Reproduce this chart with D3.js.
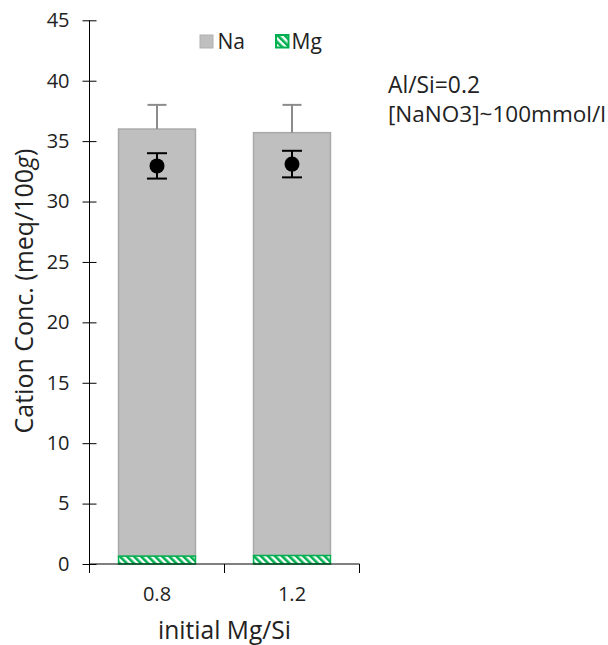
<!DOCTYPE html>
<html><head><meta charset="utf-8">
<script src="https://cdn.jsdelivr.net/npm/d3@7"></script>
<style>body{margin:0;background:#fff}svg text{font-family:"Open Sans",sans-serif;fill:#222}</style>
</head><body>
<svg id="c" width="608" height="645"></svg>
<script>
const categories = ["0.8", "1.2"];
const mgValues = [0.65, 0.7];
const naValues = [35.35, 35.0];
const totalErr = [2.0, 2.3];
const dotValues = [32.95, 33.1];
const dotErr = [1.05, 1.1];
const yTicks = [0,5,10,15,20,25,30,35,40,45];

const svg = d3.select("#c");
function fit(sel, w){
  const n = sel.node(); const fs = parseFloat(sel.attr("font-size"));
  const len = n.getComputedTextLength();
  if (len>0) sel.attr("font-size", fs*w/len);
  return sel;
}
const defs = svg.append("defs");
const pat = defs.append("pattern").attr("id","hatch").attr("patternUnits","userSpaceOnUse")
  .attr("width",5).attr("height",5).attr("patternTransform","rotate(-45)");
pat.append("rect").attr("width",5).attr("height",5).attr("fill","#fff");
pat.append("rect").attr("width",2.6).attr("height",5).attr("fill","#00b050");

const x = d3.scaleBand().domain(categories).range([89.5,359.5]).paddingInner(0.43).paddingOuter(0.215);
const y = d3.scaleLinear().domain([0,45]).range([564,20.3]);

const g = svg.append("g");
categories.forEach((c,i)=>{
  const bx = x(c), bw = x.bandwidth();
  g.append("rect").attr("x",bx).attr("width",bw)
    .attr("y",y(mgValues[i]+naValues[i])).attr("height",y(mgValues[i])-y(mgValues[i]+naValues[i]))
    .attr("fill","#bfbfbf").attr("stroke","#a9a9a9").attr("stroke-width",1.5);
  g.append("rect").attr("x",bx).attr("width",bw)
    .attr("y",y(mgValues[i])).attr("height",y(0)-y(mgValues[i]))
    .attr("fill","url(#hatch)").attr("stroke","#00b050").attr("stroke-width",1.5);
  const cx = bx + bw/2;
  const top = mgValues[i]+naValues[i];
  g.append("line").attr("x1",cx).attr("x2",cx).attr("y1",y(top)).attr("y2",y(top+totalErr[i]))
    .attr("stroke","#8c8c8c").attr("stroke-width",2);
  g.append("line").attr("x1",cx-9.5).attr("x2",cx+9.5).attr("y1",y(top+totalErr[i])).attr("y2",y(top+totalErr[i]))
    .attr("stroke","#8c8c8c").attr("stroke-width",2);
  g.append("line").attr("x1",cx).attr("x2",cx).attr("y1",y(dotValues[i]+dotErr[i])).attr("y2",y(dotValues[i]-dotErr[i]))
    .attr("stroke","#000").attr("stroke-width",2);
  [dotValues[i]+dotErr[i], dotValues[i]-dotErr[i]].forEach(v=>{
    g.append("line").attr("x1",cx-10).attr("x2",cx+10).attr("y1",y(v)).attr("y2",y(v))
      .attr("stroke","#000").attr("stroke-width",2);
  });
  g.append("circle").attr("cx",cx).attr("cy",y(dotValues[i])).attr("r",7.5).attr("fill","#000");
});

// y axis
const ya = svg.append("g").attr("transform","translate(89.5,0)")
  .call(d3.axisLeft(y).tickValues(yTicks).tickSize(7).tickPadding(13));
ya.selectAll(".tick line").attr("x1",-7).attr("x2",7);
ya.select(".domain").attr("d",`M0,${y(45)}V${y(0)}`);
ya.selectAll("path,line").attr("stroke","#000").attr("stroke-width",1);
ya.selectAll("text").attr("font-size",20).attr("fill","#222").style("font-family","'Open Sans',sans-serif");

// x axis
const xa = svg.append("g").attr("transform",`translate(0,${y(0)})`);
xa.append("line").attr("x1",89.5).attr("x2",359.5).attr("stroke","#000");
[89.5,224.5,359.5].forEach(px=>xa.append("line").attr("x1",px).attr("x2",px).attr("y1",0).attr("y2",9).attr("stroke","#000"));
categories.forEach(c=>{
  xa.append("text").attr("x",x(c)+x.bandwidth()/2).attr("y",37).attr("text-anchor","middle")
    .attr("font-size",20).text(c);
});

fit(svg.append("text").attr("x",224.5).attr("y",639).attr("text-anchor","middle").attr("font-size",20).text("initial Mg/Si"),133);
const yl = svg.append("text").attr("transform","translate(33,291) rotate(-90)").attr("text-anchor","middle")
  .attr("font-size",20);
yl.append("tspan").text("Cation Conc. (meq/100");
yl.append("tspan").attr("font-style","italic").text("g");
yl.append("tspan").text(")");
fit(yl,285);

// legend
svg.append("rect").attr("x",200).attr("y",35).attr("width",13).attr("height",13).attr("fill","#bfbfbf").attr("stroke","#b0b0b0");
svg.append("text").attr("x",217.5).attr("y",48.5).attr("font-size",21).text("Na");
svg.append("rect").attr("x",276).attr("y",35).attr("width",12.5).attr("height",12.5).attr("fill","url(#hatch)").attr("stroke","#00b050").attr("stroke-width",2);
svg.append("text").attr("x",291.5).attr("y",48.5).attr("font-size",21).text("Mg");

// annotation
fit(svg.append("text").attr("x",388).attr("y",93).attr("font-size",18).text("Al/Si=0.2"),92);
fit(svg.append("text").attr("x",388).attr("y",122).attr("font-size",18).text("[NaNO3]~100mmol/l"),218);
</script>
</body></html>
